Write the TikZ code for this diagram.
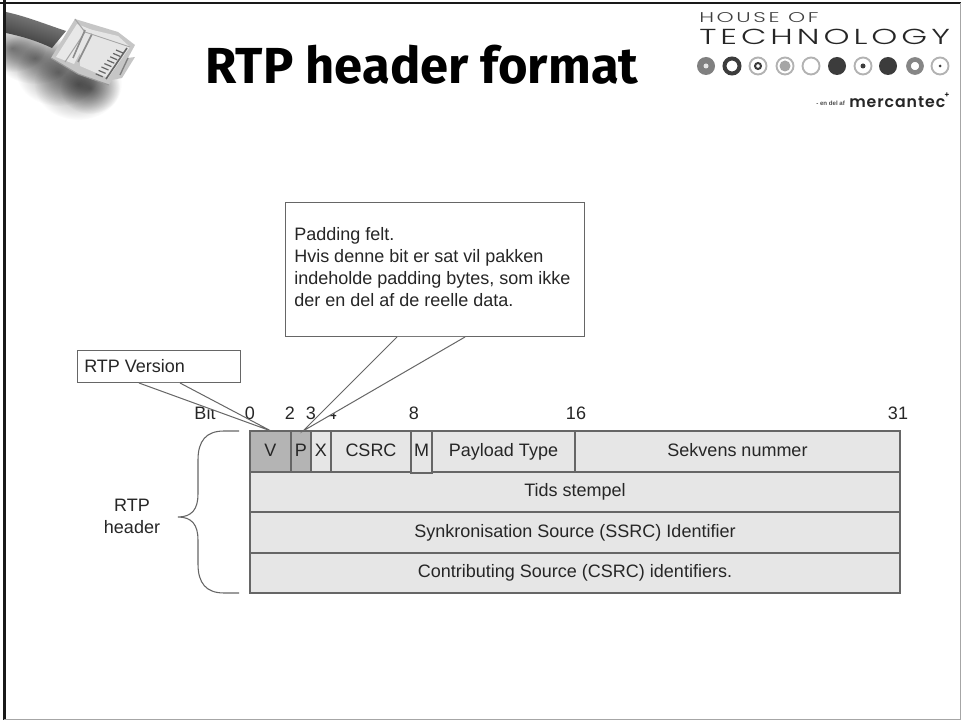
\documentclass[tikz,border=0pt]{standalone}
\usepackage{fontspec}
\usepackage{graphicx}
\setmainfont{Liberation Sans}
\newfontfamily\titlefont{Fira Sans}
\newfontfamily\logofont{Poppins Light}[LetterSpace=12]
\newfontfamily\mercfont{Poppins SemiBold}[LetterSpace=6]
\usetikzlibrary{calc,fadings}
\tikzfading[name=softblob, inner color=transparent!52, outer color=transparent!100]
\definecolor{ink}{HTML}{262626}
\definecolor{edge}{HTML}{666666}
\definecolor{lite}{HTML}{E6E6E6}
\definecolor{mid}{HTML}{B4B4B4}
\definecolor{darkdisc}{HTML}{3C3C3C}
\tikzset{
  cellbox/.style={draw=edge,line width=0.95pt,inner sep=0pt,text=ink,text height=9.8pt,text depth=2.8pt,font=\fontsize{13.5}{16}\selectfont},
  bitlabel/.style={text=ink,inner sep=0pt,font=\fontsize{13.5}{16}\selectfont},
  callbox/.style={draw=edge,fill=white,line width=0.75pt,inner sep=0pt},
  callline/.style={draw=edge,line width=0.75pt},
  blob/.style={fill=black,path fading=softblob},
}
\newcommand{\cellnode}[7]{% name x0 y0 x1 y1 fill text
  \pgfmathsetmacro{\cw}{(#4-#2)*0.75}\pgfmathsetmacro{\ch}{(#5-#3)*0.75}
  \node[cellbox,fill=#6,minimum width=\cw pt,minimum height=\ch pt] (#1) at ({(#2+#4)/2},{(#3+#5)/2}) {#7};}
\begin{document}
\begin{tikzpicture}[x=0.75pt,y=-0.75pt]
\useasboundingbox (0,0) rectangle (961,720);
\fill[white] (0,0) rectangle (961,720);
% plug: shadow
\begin{scope}
\clip (6,4) rectangle (200,140);
\fill[blob] (12,48) ellipse [x radius=34,y radius=24];
\fill[blob] (35,58) ellipse [x radius=38,y radius=26];
\fill[blob] (58,72) ellipse [x radius=42,y radius=34];
\fill[blob] (78,84) ellipse [x radius=44,y radius=36];
\fill[blob] (90,88) ellipse [x radius=30,y radius=26];
\end{scope}
% plug: cable
\shade[top color=gray!90,bottom color=black!80,shading angle=-18]
  (6,12) .. controls (25,16) and (45,24) .. (66,31) -- (52,48) .. controls (35,40) and (20,36) .. (6,33) -- cycle;
% plug: body
\fill[gray!45] (51,58) -- (75,19) -- (118,32) -- (135,45) -- (128,58) -- (135,57) -- (122,78) -- (112,80) -- (109,85) -- (78,74) -- cycle;
\fill[gray!18] (56,57) -- (77,24) -- (92,30) -- (74,64) -- cycle;
\fill[gray!20] (80,27) -- (118,36) -- (130,47) -- (108,78) -- (80,66) -- cycle;
\draw[gray!70,line width=0.8pt] (75,19) -- (85,32) -- (65,62);
\draw[gray!90,line width=1.2pt] (85,30) -- (73,58) (92,34) -- (78,62);
\draw[gray!70,line width=0.6pt] (85,32) -- (130,47);
\foreach \i in {0,...,7}{
  \draw[black!60,line width=0.9pt] ($(116,50)+(-2.9*\i,3.4*\i)$) -- ++(7,3);
}
\draw[black!60,line width=1.2pt] (127,48) -- (106,79);
\draw[gray!80,line width=0.8pt] (51,58) -- (78,74) -- (109,85);
\draw[gray,line width=1pt] (128,58) -- (120,75);
% title
\node[inner sep=0pt,text=black] (title) at (422,65) {\titlefont\bfseries\fontsize{38}{42}\selectfont RTP header format};
% logo
\node[inner sep=0pt,anchor=west,text=black!75] (house) at (699,17.5) {\resizebox{89.5pt}{7.5pt}{\logofont HOUSE OF}};
\node[inner sep=0pt,anchor=west,text=black!85] (techno) at (699,37) {\resizebox{188pt}{11.5pt}{\logofont TECHNOLOGY}};
\begin{scope}[line width=1.4pt]
\fill[gray] (706,66) circle (9); \fill[white!80!gray] (706,66) circle (2.5);
\draw[darkdisc,line width=3pt] (732,66) circle (7.5);
\draw[gray!60] (758,66) circle (8.5); \draw[darkdisc,line width=1.5pt] (758,66) circle (3);
\draw[gray!60] (785,66) circle (8.5); \fill[gray!70] (785,66) circle (5.5);
\draw[gray!60] (811,66) circle (8.5);
\fill[darkdisc] (837,66) circle (9);
\draw[gray!60] (863,66) circle (8.5); \fill[darkdisc] (863,66) circle (2.5);
\fill[darkdisc] (888,66) circle (9);
\draw[gray!95,line width=3.5pt] (915,66) circle (6.5);
\draw[gray!60] (940,66) circle (8.5); \fill[darkdisc] (940,66) circle (1.5);
\end{scope}
\node[inner sep=0pt,anchor=west,text=black!70] (endel) at (816,103.5) {\fontsize{4.6}{5}\selectfont\bfseries - en del af};
\node[inner sep=0pt,anchor=west,text=black!85] (merc) at (849,102) {\resizebox{72pt}{!}{\mercfont mercantec}};
\node[inner sep=0pt,text=black] (plus) at (947,95) {\fontsize{6}{6}\selectfont\bfseries +};
% bit labels
\node[bitlabel] (bit) at (205,413) {Bit};
\node[bitlabel] (b0) at (250,413) {0};
\node[bitlabel] (b2) at (290,413) {2};
\node[bitlabel] (b3) at (311,413) {3};
\node[bitlabel] (b4) at (332,413) {4};
\node[bitlabel] (b8) at (414,413) {8};
\node[bitlabel] (b16) at (576,413) {16};
\node[bitlabel] (b31) at (898,413) {31};
% rows
\cellnode{rowts}{250}{471}{900}{512}{lite}{Tids stempel}
\cellnode{rowssrc}{250}{512}{900}{553}{lite}{Synkronisation Source (SSRC) Identifier}
\cellnode{rowcsrc}{250}{553}{900}{593}{lite}{Contributing Source (CSRC) identifiers.}
\cellnode{cv}{250}{431}{291}{472}{mid}{V}
\cellnode{cp}{291}{431}{311}{472}{mid}{P}
\cellnode{cx}{311}{431}{331}{472}{lite}{X}
\cellnode{ccsrc}{331}{431}{411}{472}{lite}{CSRC}
\cellnode{cpt}{432}{431}{575}{472}{lite}{Payload Type}
\cellnode{cseq}{575}{431}{900}{472}{lite}{Sekvens nummer}
\cellnode{cm}{411}{431}{432}{473}{lite}{M}
% brace
\draw[edge,line width=0.8pt] (239,431) -- (224,431) .. controls (206,431) and (198,441) .. (198,460) -- (198,494) .. controls (198,509) and (192,517) .. (178,517) .. controls (192,517) and (198,525) .. (198,540) -- (198,564) .. controls (198,583) and (206,593) .. (224,593) -- (239,593);
\node[text=ink,inner sep=0pt,align=center,font=\fontsize{13.5}{16.5}\selectfont] (rtph) at (132,516) {RTP\\header};
% callouts
\node[callbox,minimum width=122.25pt,minimum height=24pt] (verbox) at (158.5,367) {};
\node[inner sep=0pt,anchor=west,text=ink,font=\fontsize{13.5}{16}\selectfont] (vertext) at (84,366) {RTP Version};
\coordinate (tipv) at (271,431);
\coordinate (va) at (139,383);
\coordinate (vb) at (180,383);
\fill[white] (va) -- (tipv) -- (vb) -- cycle;
\draw[callline] (va) -- (tipv) -- (vb);
\node[callbox,minimum width=224.25pt,minimum height=100.5pt] (padbox) at (434.5,270) {};
\node[inner sep=0pt,anchor=north west,align=left,text=ink,font=\fontsize{13.5}{16.5}\selectfont] (padtext) at (294,227.5) {Padding felt.\\Hvis denne bit er sat vil pakken\\indeholde padding bytes, som ikke\\der en del af de reelle data.};
\coordinate (tipp) at (303,431);
\coordinate (pa) at (397,337);
\coordinate (pb) at (465,337);
\fill[white] (pa) -- (tipp) -- (pb) -- cycle;
\draw[callline] (pa) -- (tipp) -- (pb);
% frame
\draw[black!90,line width=2.2pt] (0,3) -- (961,3);
\draw[black!90,line width=2.4pt] (4.5,0) -- (4.5,720);
\draw[gray!70,line width=1pt] (960.3,3) -- (960.3,719.5) -- (4,719.5);
\end{tikzpicture}
\end{document}
